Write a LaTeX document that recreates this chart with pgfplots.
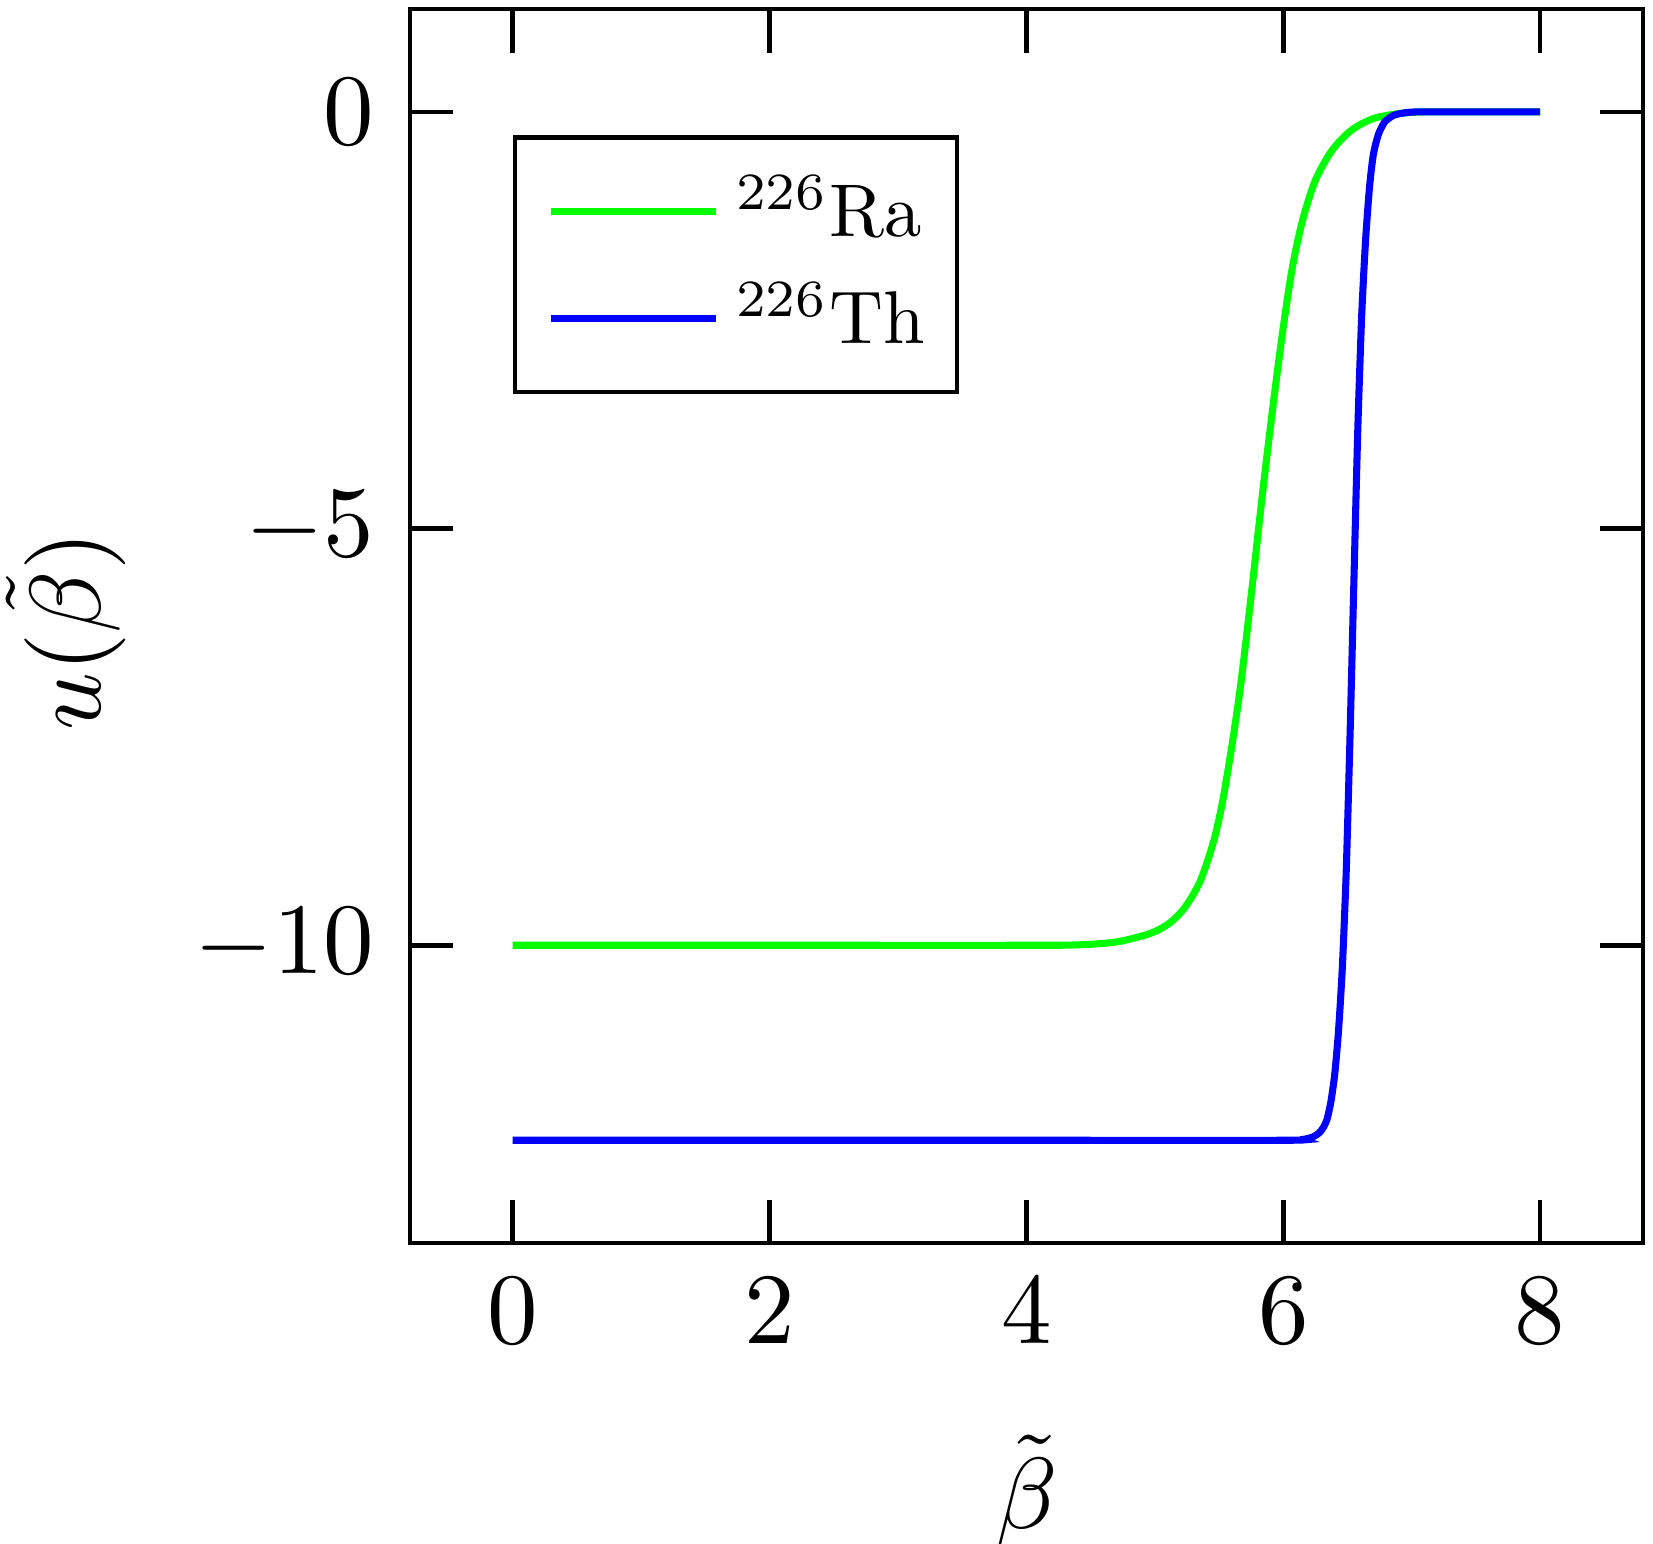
\documentclass[border=0pt]{standalone}
\usepackage{graphicx}
\usepackage{pgfplots}
\pgfplotsset{compat=1.18}
\definecolor{ragreen}{RGB}{0,255,0}
\definecolor{thblue}{RGB}{0,0,255}
\pgfplotstableread{
x y
0.00 -10.00
2.00 -10.00
4.00 -10.00
4.40 -9.995
4.70 -9.96
4.96 -9.86
5.10 -9.75
5.20 -9.61
5.28 -9.44
5.35 -9.24
5.41 -8.99
5.47 -8.68
5.53 -8.25
5.60 -7.60
5.67 -6.85
5.75 -5.80
5.84 -4.55
5.93 -3.40
6.00 -2.58
6.07 -1.87
6.15 -1.30
6.25 -0.82
6.38 -0.46
6.53 -0.22
6.70 -0.08
6.90 -0.02
7.10 0.00
7.50 0.00
8.00 0.00
}\radata
\pgfplotstableread{
x y
0.00 -12.34
2.00 -12.34
4.00 -12.34
6.00 -12.34
6.15 -12.33
6.23 -12.30
6.28 -12.25
6.31 -12.19
6.34 -12.09
6.37 -11.88
6.40 -11.55
6.43 -11.02
6.46 -10.25
6.49 -9.10
6.52 -7.45
6.55 -5.60
6.58 -3.80
6.61 -2.45
6.64 -1.55
6.67 -0.92
6.70 -0.52
6.74 -0.27
6.79 -0.12
6.86 -0.04
6.95 -0.01
7.05 0.00
7.50 0.00
8.00 0.00
}\thdata
\begin{document}
\begin{tikzpicture}
\begin{axis}[
  scale only axis,
  width=122.1pt, height=122.2pt,
  xmin=-0.8, xmax=8.8,
  ymin=-13.574, ymax=1.234,
  xtick={0,2,4,6,8},
  ytick={-10,-5,0},
  tick pos=both,
  tick align=inside,
  major tick length=4.3pt,
  minor tick num=0,
  axis line style={line width=0.45pt},
  every tick/.style={black, line width=0.45pt},
  xlabel={$\tilde{\beta}$},
  ylabel={$u(\tilde{\beta})$},
  xlabel style={at={(axis description cs:0.5,-0.2013)}, anchor=center},
  ylabel style={at={(axis description cs:-0.279,0.496)}, anchor=center},
  legend cell align=left,
  legend style={
    at={(axis description cs:0.0833,0.8977)}, anchor=north west,
    draw=black, line width=0.45pt,
    inner xsep=3.2pt, inner ysep=3pt,
    row sep=2pt,
    nodes={inner sep=0pt, text height=6.8pt, text depth=1.8pt},
    /tikz/every odd column/.append style={column sep=1.6pt},
  },
  legend image code/.code={\draw[#1] (0pt,0pt) -- (16.4pt,0pt);},
]
\addplot[ragreen, line width=0.7pt, smooth, tension=0.5] table[x=x,y=y] {\radata};
\addlegendentry{\scalebox{0.74}{$^{226}$Ra}}
\addplot[thblue, line width=0.7pt, smooth, tension=0.4] table[x=x,y=y] {\thdata};
\addlegendentry{\scalebox{0.74}{$^{226}$Th}}
\coordinate (sw) at (axis description cs:0,0);
\coordinate (ne) at (axis description cs:1,1);
\end{axis}
\pgfresetboundingbox
\path[use as bounding box] ([xshift=-40.6pt,yshift=-29.7pt]sw) rectangle ([xshift=1.0pt,yshift=0.9pt]ne);
\end{tikzpicture}
\end{document}
